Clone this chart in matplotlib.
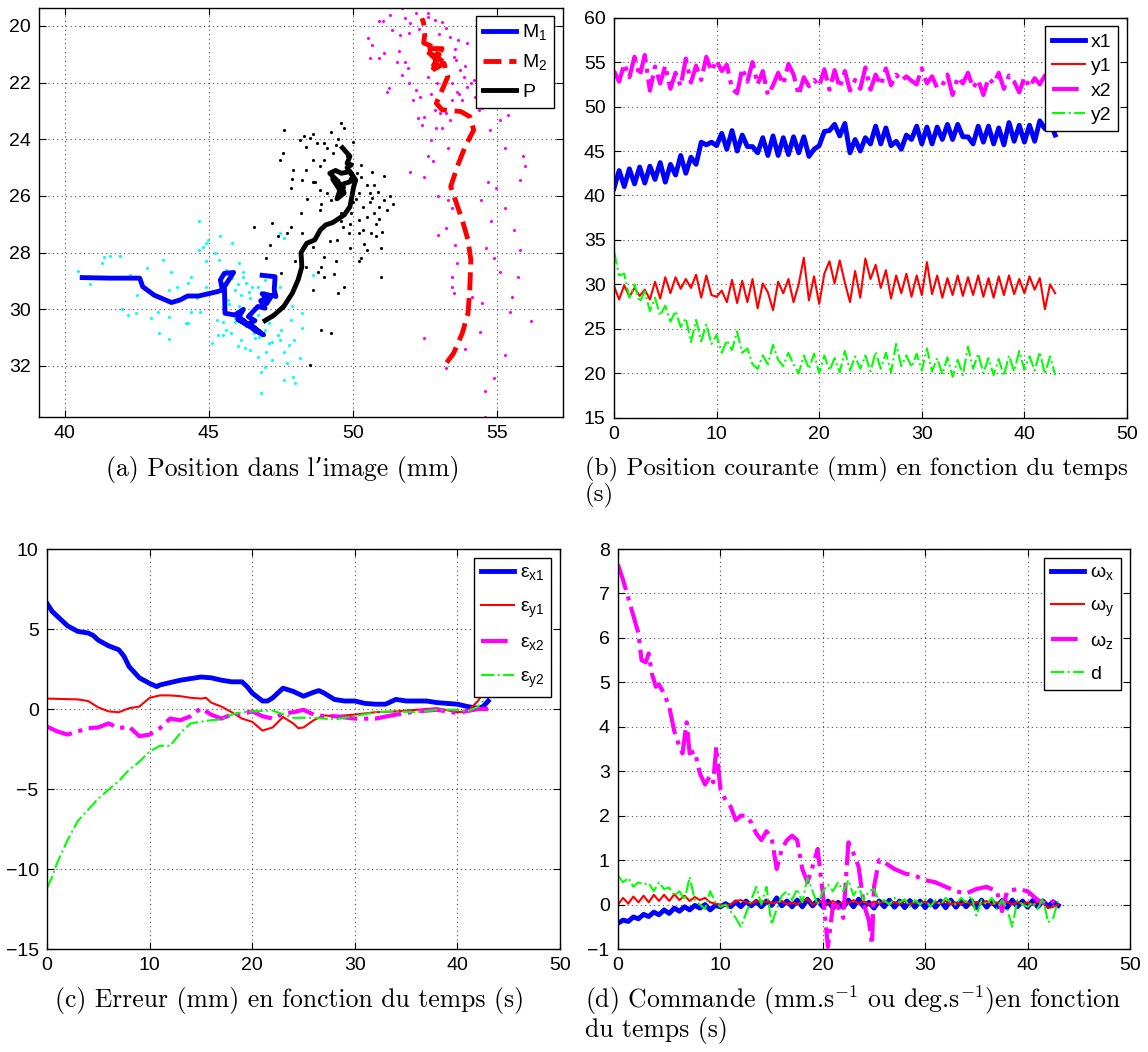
import numpy as np
import matplotlib
matplotlib.use('Agg')
import matplotlib.pyplot as plt

plt.rcParams['font.family'] = 'Liberation Sans'
plt.rcParams['mathtext.fontset'] = 'custom'
plt.rcParams['mathtext.rm'] = 'Liberation Sans'

# ---------- DONNEES ----------
# (a) trajectoires dans l'image (mm)
m1_x = [40.6, 41.56, 42.6, 42.7, 43.1, 43.7, 44.0, 44.26, 44.64, 45.28, 45.47,
        45.4, 45.54, 45.86, 45.54, 45.56, 45.9, 46.2, 46.05, 46.3, 46.0, 46.4,
        46.2, 46.6, 46.9, 46.5, 46.75, 46.4, 46.6, 46.37, 46.7, 46.95, 46.8, 47.0,
        46.85, 47.1, 47.0, 47.2, 47.33, 47.27, 47.3, 46.85]
m1_y = [28.88, 28.9, 28.9, 29.2, 29.5, 29.76, 29.67, 29.53, 29.53, 29.38, 29.32,
        28.96, 28.73, 28.7, 29.2, 30.14, 30.2, 30.0, 30.26, 30.5, 30.35, 30.6,
        30.4, 30.75, 30.9, 30.6, 30.8, 30.5, 30.4, 30.26, 29.9, 29.96, 29.7, 29.6,
        29.45, 29.5, 29.8, 29.5, 29.55, 29.32, 28.85, 28.8]

p_x = [46.95, 47.27, 47.6, 47.9, 48.1, 48.23, 48.2, 48.4, 48.68, 48.87, 49.06,
       49.3, 49.7, 49.9, 49.97, 50.03, 50.1, 49.9, 49.6, 49.4, 49.2, 49.5, 49.3,
       49.55, 49.45, 49.7, 49.6, 49.9, 50.0, 49.8, 49.95, 49.8, 49.9, 49.64]
p_y = [30.4, 30.2, 29.9, 29.43, 28.96, 28.5, 28.0, 27.67, 27.55, 27.2, 27.02,
       26.94, 26.67, 26.38, 26.0, 25.67, 25.44, 25.14, 25.2, 25.1, 25.2, 25.5,
       25.4, 25.8, 26.1, 25.9, 25.6, 25.5, 25.3, 25.0, 24.9, 24.85, 24.6, 24.3]

m2_x = [53.26, 53.5, 53.8, 54.0, 54.06, 54.1, 54.0, 53.8, 53.56, 53.4, 53.63,
        53.9, 54.2, 54.06, 53.75, 53.1, 52.9, 53.1, 53.3, 53.17, 52.7, 53.0,
        52.6, 53.2, 52.8, 53.1, 52.5, 52.9, 52.7, 52.46, 52.5, 52.46, 52.4]
m2_y = [31.88, 31.55, 30.85, 30.14, 29.32, 28.26, 27.55, 26.85, 26.14, 25.67,
        24.96, 24.26, 23.67, 23.2, 23.02, 22.96, 22.73, 22.26, 21.79, 21.32,
        21.6, 21.0, 20.9, 21.3, 21.5, 20.8, 20.8, 21.2, 20.7, 20.6, 20.3, 19.9,
        19.73]

# mesures brutes (points)
cyan_x = [40.45, 40.86, 41.3, 41.37, 41.56, 41.9, 41.6, 42.27, 42.85, 42.5, 42.2,
          42.46, 43.23, 43.6, 43.26, 43.6, 43.42, 43.7, 43.6, 44.2, 44.28, 44.38,
          44.26, 44.64, 44.64, 44.9, 44.96, 45.4, 45.8, 45.35, 44.9, 44.7, 45.1,
          45.5, 45.9, 45.77, 46.1, 46.24, 46.44, 46.7, 46.95, 47.2, 47.6, 47.46,
          47.78, 47.97, 48.23, 48.23, 47.85, 47.52, 47.2, 46.95, 46.75, 47.6, 48.0,
          46.82, 47.92, 48.17, 48.6, 47.6, 47.46, 46.05, 46.18, 46.3, 45.92, 46.44,
          46.7, 46.95, 47.2, 47.46, 46.05, 46.56, 45.67, 47.08, 46.56, 45.6, 45.28,
          44.38, 45.6, 45.8, 46.0, 46.2, 46.4, 45.7, 46.1, 46.5, 46.9, 47.3, 45.9,
          46.3, 46.7, 47.1, 45.5, 46.0, 46.6, 47.4, 44.9, 45.2, 44.6, 44.8, 45.3,
          46.8, 47.0, 47.7, 47.9, 43.9, 43.0, 42.0]
cyan_y = [28.64, 29.1, 28.38, 28.14, 28.12, 28.12, 28.9, 28.8, 28.55, 29.5, 30.2,
          30.12, 30.08, 30.26, 30.85, 31.05, 28.26, 28.7, 29.32, 30.5, 30.5, 28.85,
          29.08, 27.9, 26.87, 27.67, 27.55, 27.43, 27.67, 28.26, 29.2, 30.08, 31.2,
          30.44, 30.44, 30.85, 31.1, 31.38, 31.44, 31.67, 32.02, 31.79, 31.5, 31.1,
          31.26, 31.08, 30.67, 30.14, 30.38, 30.73, 31.14, 30.73, 30.96, 32.5, 32.6,
          32.96, 32.38, 31.73, 28.79, 27.5, 27.32, 28.38, 28.85, 29.08, 29.32, 29.6,
          29.2, 28.96, 30.26, 29.2, 29.9, 29.96, 29.67, 31.2, 30.85, 30.73, 30.38,
          30.08, 28.6, 28.9, 29.1, 28.7, 29.4, 29.8, 29.5, 29.2, 29.4, 29.0, 30.3,
          30.6, 30.2, 30.5, 30.9, 31.3, 31.0, 30.9, 28.3, 28.0, 29.6, 27.8, 30.9,
          32.2, 31.5, 31.9, 29.9, 29.2, 30.3, 30.0]

noir_x = [47.6, 47.58, 47.47, 47.92, 48.17, 48.3, 48.5, 48.6, 48.36, 48.74, 49.0,
          49.23, 49.6, 49.7, 49.1, 49.3, 49.0, 48.6, 48.85, 48.36, 48.23, 47.85,
          48.6, 48.85, 48.85, 49.23, 49.7, 50.14, 50.27, 50.67, 50.5, 50.2, 50.74,
          50.87, 50.67, 51.1, 51.3, 50.9, 50.36, 49.92, 50.2, 50.5, 50.74, 50.36,
          49.85, 49.67, 50.2, 50.64, 51.0, 50.97, 50.27, 49.9, 49.45, 49.0, 48.6,
          48.23, 47.85, 47.7, 47.2, 46.56, 47.14, 47.0, 47.52, 48.36, 48.9, 49.0,
          49.36, 49.7, 49.5, 48.6, 48.5, 48.9, 49.25, 50.97, 49.6, 49.5, 50.0,
          49.4, 49.8, 50.3, 50.6, 50.9, 51.2, 50.1, 49.6, 49.2, 48.9, 50.4, 50.8,
          51.4, 50.0, 49.5, 48.7, 48.4, 49.9, 50.6, 51.1, 48.2, 47.9, 49.1, 50.2,
          50.5, 49.4, 48.8, 47.4, 48.0, 50.8]
noir_y = [23.67, 24.5, 24.74, 25.08, 24.02, 23.9, 23.96, 23.8, 24.26, 24.14, 24.14,
          23.73, 23.43, 23.6, 24.32, 24.5, 24.73, 24.73, 24.96, 25.08, 25.44, 25.73,
          25.5, 25.8, 26.5, 26.14, 25.67, 25.2, 25.32, 25.14, 25.6, 25.9, 25.6,
          25.85, 26.08, 26.14, 26.0, 26.38, 26.38, 26.6, 26.85, 26.73, 26.6, 27.2,
          27.32, 27.08, 27.32, 27.32, 27.26, 27.85, 28.2, 27.85, 27.55, 28.14, 27.79,
          27.32, 27.08, 27.32, 26.96, 27.08, 27.73, 28.2, 28.73, 28.5, 28.5, 28.85,
          28.76, 29.2, 29.43, 29.32, 31.96, 30.73, 30.85, 28.85, 26.6, 25.9, 26.2,
          24.2, 24.6, 24.9, 25.9, 26.8, 26.5, 26.1, 26.9, 27.6, 26.3, 27.7, 27.4,
          26.3, 24.1, 24.0, 25.5, 26.1, 27.0, 26.2, 25.3, 26.6, 25.4, 25.9, 28.3,
          27.9, 28.3, 28.7, 27.4, 28.3, 27.0]

mag_x = [50.92, 51.05, 51.3, 51.7, 51.82, 52.2, 52.08, 51.37, 51.63, 51.95, 50.54,
         50.67, 50.6, 50.92, 51.1, 51.55, 51.82, 51.24, 51.17, 51.7, 51.95, 52.2,
         52.33, 52.26, 52.46, 52.85, 53.04, 53.23, 53.36, 53.1, 52.72, 52.6, 52.8,
         52.0, 52.46, 52.97, 53.3, 53.44, 53.24, 52.97, 53.56, 53.62, 53.44, 53.44,
         53.5, 52.46, 53.23, 54.9, 54.58, 55.28, 55.47, 55.54, 55.73, 55.8, 54.9,
         54.64, 54.5, 54.13, 54.4, 54.96, 54.7, 54.46, 55.3, 55.98, 55.8, 55.28,
         54.77, 55.1, 55.4, 54.37, 54.24, 54.1, 53.98, 53.85, 53.73, 53.6, 53.54,
         53.67, 53.98, 53.23, 53.1, 52.85, 52.6, 53.36, 53.44, 53.62, 53.8, 53.44,
         52.92, 52.6, 52.3, 52.6, 53.0, 53.5, 53.9, 54.2, 51.9, 52.1, 52.7, 53.2,
         53.7, 54.3, 54.5, 52.4, 52.9, 53.3, 51.6, 52.0, 55.6, 55.9, 54.8, 56.2,
         53.9, 54.6, 55.1]
mag_y = [19.81, 19.81, 19.6, 19.38, 19.73, 19.55, 19.32, 20.14, 20.32, 20.26, 20.44,
         20.67, 21.14, 21.14, 20.96, 21.26, 21.26, 22.2, 22.32, 21.73, 22.02, 22.26,
         22.5, 23.26, 23.2, 22.96, 23.08, 23.08, 23.32, 23.6, 24.02, 24.6, 24.78,
         25.14, 25.32, 26.0, 26.14, 26.43, 27.14, 27.38, 27.73, 28.38, 28.85, 29.2,
         29.43, 31.02, 32.08, 32.44, 33.79, 31.6, 30.08, 29.55, 28.85, 27.9, 28.2,
         27.85, 29.79, 29.55, 30.79, 25.73, 25.5, 26.14, 26.43, 24.96, 25.44, 24.32,
         23.67, 23.32, 23.14, 22.96, 22.5, 22.0, 22.14, 21.79, 21.55, 21.2, 20.8,
         20.5, 20.6, 20.08, 19.85, 19.79, 19.55, 20.38, 22.02, 22.32, 22.61, 22.61,
         22.02, 21.79, 20.1, 19.7, 20.3, 21.1, 21.4, 21.9, 21.5, 22.6, 22.4, 21.9,
         22.4, 21.6, 22.9, 23.5, 23.6, 24.3, 20.9, 19.9, 27.2, 24.6, 26.9, 30.4,
         31.4, 32.9, 28.7]

# (b) position courante (mm), echantillons toutes les 0.5 s
x1 = [40.8, 42.8, 41.0, 43.0, 41.3, 43.2, 41.4, 43.3, 41.8, 43.7,
      41.5, 43.5, 42.3, 44.5, 42.5, 44.3, 43.5, 46.0, 45.7, 46.0,
      45.6, 47.0, 45.2, 47.3, 45.0, 46.8, 45.5, 45.5, 44.8, 46.5,
      44.5, 46.7, 44.5, 46.5, 44.6, 46.6, 44.8, 46.6, 44.4, 45.2,
      45.6, 47.2, 47.3, 48.0, 46.7, 48.1, 44.8, 46.3, 45.0, 46.5,
      45.8, 47.8, 45.8, 47.6, 45.6, 46.1, 45.2, 46.8, 46.3, 47.8,
      45.8, 47.7, 45.8, 47.7, 46.3, 48.0, 46.3, 48.0, 46.6, 46.6,
      45.8, 47.8, 46.0, 47.8, 45.8, 47.6, 45.7, 48.2, 46.1, 47.9,
      46.0, 47.9, 46.1, 48.4, 47.5, 48.2, 46.8]
y1 = [29.8, 28.3, 29.9, 28.6, 29.6, 28.7, 29.4, 28.3, 30.3, 28.4,
      30.8, 29.0, 30.8, 29.5, 30.6, 29.6, 31.1, 28.5, 31.0, 28.8,
      28.6, 29.3, 28.0, 30.5, 27.9, 30.4, 28.0, 30.6, 27.3, 30.1,
      29.1, 27.1, 30.3, 29.0, 30.6, 28.0, 30.0, 33.0, 28.2, 30.9,
      27.8, 31.2, 32.6, 30.1, 32.7, 30.2, 28.0, 31.5, 28.5, 32.9,
      30.6, 32.2, 29.6, 31.6, 28.4, 31.0, 29.0, 31.2, 28.6, 31.0,
      28.8, 32.5, 28.9, 31.0, 28.5, 30.7, 28.8, 31.0, 28.7, 30.8,
      28.8, 31.0, 28.6, 30.7, 28.5, 30.9, 28.8, 31.0, 28.9, 30.6,
      29.0, 30.9, 29.4, 30.7, 27.2, 30.0, 29.0]
x2 = [54.0, 52.8, 54.8, 53.3, 55.6, 53.4, 55.8, 51.8, 54.5, 52.6,
      54.6, 52.0, 53.8, 52.3, 55.4, 52.7, 54.6, 53.0, 55.6, 54.0,
      55.2, 54.0, 54.7, 52.0, 51.5, 54.3, 52.8, 55.0, 52.5, 54.0,
      51.3, 52.4, 53.8, 52.5, 54.8, 53.6, 51.3, 53.3, 52.3, 53.0,
      52.3, 54.2, 51.9, 54.1, 52.1, 54.0, 51.8, 53.0, 52.0, 54.4,
      51.9, 53.6, 52.4, 54.3, 52.4, 53.6, 52.9, 53.4, 52.9, 52.5,
      54.3, 52.6, 53.4, 52.1, 52.4, 53.6, 51.3, 53.3, 52.6, 53.8,
      52.1, 53.0, 51.3, 53.2, 52.6, 53.8, 52.0, 53.5, 52.8, 51.6,
      53.3, 52.2, 53.2, 52.5, 53.5, 52.0, 52.6]
y2 = [33.7, 31.0, 31.2, 28.5, 30.0, 28.0, 29.2, 27.0, 28.5, 26.5,
      27.6, 25.8, 27.0, 25.2, 26.2, 23.5, 26.0, 23.6, 25.5, 23.3,
      24.3, 22.3, 23.7, 22.6, 24.7, 22.3, 22.8, 21.0, 20.5, 22.0,
      21.0, 23.2, 21.5, 20.8, 22.3, 21.0, 20.0, 22.0, 20.5, 22.2,
      20.0, 22.0, 20.3, 21.7, 20.1, 22.5, 20.3, 21.9, 20.5, 22.0,
      20.2, 22.4, 20.5, 22.3, 20.1, 23.3, 20.8, 22.0, 20.7, 22.2,
      20.3, 22.8, 20.2, 21.7, 19.9, 21.8, 19.6, 21.5, 19.8, 23.0,
      20.5, 22.2, 20.0, 21.7, 19.8, 21.6, 19.7, 22.0, 20.2, 22.5,
      20.4, 21.9, 20.3, 22.4, 19.9, 21.9, 19.8]
t_b = np.arange(len(x1)) * 0.5

# (c) erreur (mm)
t_ex1 = [0, 0.5, 1, 2, 3, 4, 4.5, 5, 6, 7, 7.5, 8, 9, 10, 10.7, 11, 12, 13, 14, 15,
         16, 17, 18, 19, 19.5, 20, 21, 21.5, 22, 23, 24, 25, 26, 26.5, 27, 28, 29,
         30, 31, 32, 33, 34, 35, 36, 37, 38, 39, 40, 41, 42, 42.5, 43]
ex1 = [6.6, 6.1, 5.8, 5.2, 4.85, 4.75, 4.6, 4.3, 3.95, 3.7, 3.3, 2.65, 1.95, 1.6,
       1.4, 1.5, 1.65, 1.8, 1.9, 2.0, 1.95, 1.8, 1.7, 1.7, 1.4, 1.0, 0.5, 0.5, 0.7,
       1.3, 1.1, 0.8, 1.05, 1.15, 1.0, 0.6, 0.5, 0.5, 0.35, 0.3, 0.3, 0.6, 0.5, 0.5,
       0.5, 0.4, 0.35, 0.3, 0.15, 0.05, 0.15, 0.5]
t_ey1 = [0, 3, 4, 5, 6, 7, 8, 9, 10, 11, 12, 13, 14, 15, 15.5, 16, 17, 18, 19, 20,
         21, 22, 23, 24, 24.5, 25, 26, 27, 28, 30, 32, 34, 36, 38, 40, 41, 42, 42.5]
ey1 = [0.65, 0.6, 0.5, 0.1, -0.15, -0.2, 0.05, 0.15, 0.7, 0.85, 0.85, 0.8, 0.7,
       0.65, 0.7, 0.4, 0.15, -0.2, -0.6, -0.8, -1.35, -1.15, -0.5, -0.9, -1.2,
       -1.15, -0.7, -0.4, -0.45, -0.35, -0.2, -0.15, -0.05, 0.05, -0.2, -0.15,
       0.5, 1.0]
t_ex2 = [0, 1, 2, 3, 4, 5, 6, 7, 8, 9, 10, 11, 12, 13, 14, 15, 16, 17, 18, 19, 20,
         21, 22, 23, 24, 25, 26, 27, 28, 30, 32, 34, 36, 38, 40, 42, 43]
ex2 = [-1.1, -1.4, -1.6, -1.4, -1.2, -1.15, -0.9, -1.2, -1.1, -1.7, -1.6, -1.2,
       -0.6, -0.7, -0.45, 0.05, -0.35, -0.6, -0.35, -0.3, -0.15, -0.45, -0.6,
       -0.3, -0.2, -0.05, -0.35, -0.45, -0.45, -0.6, -0.6, -0.35, -0.15, -0.05,
       -0.25, 0.0, 0.0]
t_ey2 = [0, 0.5, 1, 2, 3, 4, 5, 6, 7, 8, 9, 10, 11, 12, 13, 14, 15, 16, 17, 18, 19,
         20, 22, 24, 26, 28, 30, 32, 34, 36, 38, 40, 41, 42, 42.5]
ey2 = [-11.2, -10.5, -9.6, -8.2, -7.0, -6.3, -5.6, -5.05, -4.5, -3.8, -3.3, -2.65,
       -2.3, -2.3, -1.5, -0.9, -0.8, -0.7, -0.65, -0.35, -0.2, -0.15, -0.1, -0.55,
       -0.55, -0.65, -0.45, -0.2, -0.15, -0.2, -0.05, -0.05, -0.15, 0.15, 0.5]

# (d) commande, echantillons toutes les 0.5 s (sauf wz)
wx = [-0.42, -0.35, -0.38, -0.28, -0.32, -0.22, -0.27, -0.17, -0.23, -0.12,
      -0.20, -0.08, -0.15, -0.05, -0.12, -0.02, -0.08, 0.00, -0.12, -0.02,
      -0.05, 0.02, -0.05, 0.06, -0.05, 0.08, -0.03, 0.07, -0.05, 0.08,
      -0.02, 0.15, -0.03, 0.08, -0.05, 0.10, -0.05, 0.12, -0.03, 0.10,
      -0.05, 0.08, -0.08, 0.05, -0.06, 0.10, -0.05, 0.12, -0.05, 0.05,
      -0.08, 0.08, -0.05, 0.10, -0.06, 0.08, -0.07, 0.09, -0.06, 0.08,
      -0.07, 0.09, -0.06, 0.08, -0.07, 0.10, -0.06, 0.08, -0.05, 0.09,
      -0.07, 0.10, -0.06, 0.08, -0.06, 0.09, -0.07, 0.10, -0.05, 0.08,
      -0.06, 0.09, -0.05, 0.08, -0.04, 0.06, -0.02]
wy = [0.00, 0.15, 0.02, 0.18, 0.05, 0.20, 0.05, 0.22, 0.08, 0.22,
      0.08, 0.23, 0.10, 0.20, 0.08, 0.17, 0.10, 0.15, 0.05, 0.02,
      0.00, -0.02, 0.00, 0.08, 0.10, 0.05, 0.02, 0.08, 0.05, 0.07,
      0.03, 0.05, 0.08, 0.00, 0.05, 0.00, 0.08, 0.12, 0.00, 0.05,
      0.07, 0.02, 0.08, 0.00, 0.06, 0.03, 0.10, 0.02, 0.08, 0.00,
      0.07, 0.02, 0.09, 0.00, 0.06, 0.01, 0.08, 0.00, 0.05, 0.02,
      0.07, -0.01, 0.06, 0.02, 0.08, 0.00, 0.05, 0.01, 0.07, 0.00,
      0.06, 0.02, 0.08, 0.00, 0.05, 0.01, 0.07, 0.00, 0.06, 0.02,
      0.05, 0.00, 0.06, 0.03, -0.08, -0.05, 0.00]
d_cmd = [0.65, 0.50, 0.60, 0.40, 0.50, 0.45, 0.48, 0.30, 0.50, 0.35,
         0.38, 0.20, 0.30, 0.10, 0.62, 0.10, 0.00, -0.10, 0.30, 0.05,
         -0.05, 0.00, -0.15, -0.30, -0.50, -0.20, 0.10, 0.40, 0.00, 0.40,
         -0.45, -0.10, 0.20, 0.30, 0.10, 0.35, 0.05, 0.60, 0.30, 0.00,
         0.30, 0.45, 0.30, 0.50, 0.30, 0.55, 0.20, 0.40, 0.10, 0.30,
         0.35, 0.05, 0.10, 0.00, 0.15, 0.05, 0.12, -0.05, 0.10, 0.00,
         0.12, -0.05, 0.10, 0.00, 0.15, 0.05, 0.00, 0.15, 0.05, 0.20,
         -0.25, 0.10, 0.00, 0.15, -0.10, 0.10, -0.10, -0.50, 0.10, 0.00,
         -0.05, 0.05, -0.10, 0.15, -0.40, -0.30, 0.10]
t_d = np.arange(len(wx)) * 0.5
t_wz = [0, 0.5, 1, 1.5, 2, 2.3, 2.7, 3, 3.3, 3.7, 4, 4.5, 5, 5.5, 6, 6.3, 6.7, 7,
        7.5, 8, 8.5, 9, 9.3, 9.6, 10, 10.5, 11, 11.5, 12, 12.5, 13, 13.5, 14, 14.5,
        15, 15.5, 16, 16.5, 17, 17.5, 18, 18.5, 19, 19.5, 20, 20.5, 21, 21.5, 22,
        22.5, 23, 23.5, 24, 24.5, 24.8, 25, 25.5, 26, 27, 28, 29, 30, 31, 32, 33,
        34, 35, 36, 37, 37.5, 38, 39, 40, 41, 42, 43]
wz = [7.65, 7.3, 6.9, 6.5, 6.1, 5.5, 5.45, 5.65, 5.2, 4.9, 4.95, 4.75, 4.45, 3.9,
      3.55, 3.4, 4.1, 3.4, 3.45, 2.95, 2.7, 2.9, 2.75, 3.55, 2.6, 2.35, 2.2, 1.9,
      2.0, 2.0, 1.85, 1.6, 1.45, 1.65, 1.5, 0.8, 1.25, 1.45, 1.55, 1.45, 0.8, 0.5,
      0.85, 1.25, 0.25, -0.95, 0.0, -0.05, -0.3, 1.4, 1.15, 0.85, 0.0, -0.35,
      -0.9, 0.4, 1.0, 0.95, 0.8, 0.7, 0.65, 0.55, 0.5, 0.4, 0.3, 0.25, 0.35, 0.4,
      0.3, -0.15, 0.3, 0.35, 0.3, 0.1, 0.0, 0.15]

# ---------- GRAPHIQUE ----------
W, H = 1148, 1052
fig = plt.figure(figsize=(W / 100, H / 100), dpi=100)


def boite(x0, x1_, y0, y1_):
    # rectangle en pixels (origine en haut a gauche)
    return [x0 / W, 1 - y1_ / H, (x1_ - x0) / W, (y1_ - y0) / H]


def style(ax):
    ax.grid(True, linestyle=(0, (1, 3)), color='0.3', linewidth=0.8)
    ax.tick_params(direction='in', top=True, right=True, length=5,
                   labelsize=14, width=0.8, pad=6)
    for s in ax.spines.values():
        s.set_linewidth(1.0)


def legende(ax, **kw):
    leg = ax.legend(loc='upper right', fontsize=14, fancybox=False,
                    edgecolor='k', framealpha=1, borderaxespad=0.45,
                    handlelength=1.7, handletextpad=0.3, borderpad=0.35, **kw)
    leg.get_frame().set_linewidth(1.0)
    return leg


def sub(s):
    return '$_{\\mathregular{' + s + '}}$'


# (a)
ax = fig.add_axes(boite(39, 563, 7.5, 417))
ax.plot(cyan_x, cyan_y, '.', color='#00ffff', markersize=2.5)
ax.plot(noir_x, noir_y, '.', color='k', markersize=2.5)
ax.plot(mag_x, mag_y, '.', color='#ff00ff', markersize=2.5)
ax.plot(m1_x, m1_y, '-', color='#0000ff', lw=3.5, label='M' + sub('1'))
ax.plot(m2_x, m2_y, '--', color='#ff0000', lw=3.5, label='M' + sub('2'))
ax.plot(p_x, p_y, '-', color='k', lw=3.5, label='P')
ax.set_xlim(39.1, 57.3)
ax.set_ylim(33.8, 19.35)
ax.set_xticks([40, 45, 50, 55])
ax.set_yticks([20, 22, 24, 26, 28, 30, 32])
style(ax)
legende(ax, labelspacing=0.5)

# (b)
ax = fig.add_axes(boite(614, 1127, 17.7, 417.7))
ax.plot(t_b, x1, '-', color='#0000ff', lw=3.5, label='x1')
ax.plot(t_b, y1, '-', color='#ff0000', lw=1.5, label='y1')
ax.plot(t_b, x2, '-.', color='#ff00ff', lw=3.0, label='x2')
ax.plot(t_b, y2, '-.', color='#00ff00', lw=1.5, label='y2')
ax.set_xlim(0, 50)
ax.set_ylim(15, 60)
ax.set_xticks(range(0, 51, 10))
ax.set_yticks(range(15, 61, 5))
style(ax)
legende(ax, labelspacing=0.35)

# (c)
ax = fig.add_axes(boite(47, 560, 549, 949))
ax.plot(t_ex1, ex1, '-', color='#0000ff', lw=3.5, label='ε' + sub('x1'))
ax.plot(t_ey1, ey1, '-', color='#ff0000', lw=1.5, label='ε' + sub('y1'))
ax.plot(t_ex2, ex2, '-.', color='#ff00ff', lw=3.0, label='ε' + sub('x2'))
ax.plot(t_ey2, ey2, '-.', color='#00ff00', lw=1.5, label='ε' + sub('y2'))
ax.set_xlim(0, 50)
ax.set_ylim(-15, 10)
ax.set_xticks(range(0, 51, 10))
ax.set_yticks([-15, -10, -5, 0, 5, 10])
style(ax)
legende(ax, labelspacing=0.75)

# (d)
ax = fig.add_axes(boite(618, 1130, 549, 949))
ax.plot(t_d, wx, '-', color='#0000ff', lw=3.5, label='ω' + sub('x'))
ax.plot(t_d, wy, '-', color='#ff0000', lw=1.5, label='ω' + sub('y'))
ax.plot(t_wz, wz, '-.', color='#ff00ff', lw=3.0, label='ω' + sub('z'))
ax.plot(t_d, d_cmd, '-.', color='#00ff00', lw=1.5, label='d')
ax.set_xlim(0, 50)
ax.set_ylim(-1, 8)
ax.set_xticks(range(0, 51, 10))
ax.set_yticks(range(-1, 9))
style(ax)
legende(ax, labelspacing=0.7)

# legendes des sous-figures
cap = dict(family=['cmr10', 'DejaVu Serif'], math_fontfamily='cm', va='center')
fig.text(283 / W, 1 - 469 / H, '(a) Position dans l’image (mm)', ha='center',
         fontsize=18.5, **cap)
fig.text(585 / W, 1 - 469 / H, '(b) Position courante (mm) en fonction du temps',
         ha='left', fontsize=18, **cap)
fig.text(585 / W, 1 - 495 / H, '(s)', ha='left', fontsize=18, **cap)
fig.text(290 / W, 1 - 1000 / H, '(c) Erreur (mm) en fonction du temps (s)',
         ha='center', fontsize=18.5, **cap)
fig.text(585 / W, 1 - 1000 / H, '(d) Commande (mm.s$^{-1}$ ou deg.s$^{-1}$)en fonction',
         ha='left', fontsize=18.5, **cap)
fig.text(585 / W, 1 - 1030 / H, 'du temps (s)', ha='left', fontsize=18.5, **cap)

fig.savefig('out.png', dpi=100)
